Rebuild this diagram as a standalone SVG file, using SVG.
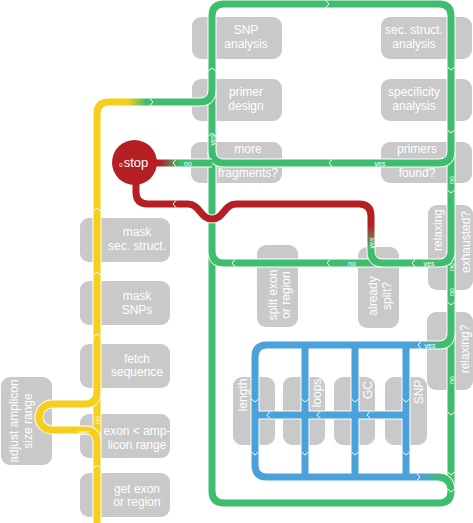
<svg xmlns="http://www.w3.org/2000/svg" width="473" height="523" viewBox="0 0 473 523">
<defs>
<style>
.box{fill:#c9c9c9}
.t{font-family:"Liberation Sans",Arial,sans-serif;font-size:12px;fill:#fff;text-anchor:middle}
.c{fill:none;stroke:#fff;stroke-width:9;stroke-linejoin:round}
.ln{fill:none;stroke-width:7;stroke-linejoin:round}
.g{stroke:#3fbd6e}
.y{stroke:#f6cf1c}
.b{stroke:#4ba2da}
.l{font-family:"Liberation Sans",Arial,sans-serif;font-size:7px;fill:#fff;text-anchor:middle}
</style>
<path id="al" d="M3,-3.5 L0,0 L3,3.5" fill="none" stroke="#fff" stroke-width="1"/>
<linearGradient id="yg" gradientUnits="userSpaceOnUse" x1="128" y1="0" x2="146" y2="0"><stop offset="0" stop-color="#f6cf1c"/><stop offset="1" stop-color="#3fbd6e"/></linearGradient>
<linearGradient id="rg" gradientUnits="userSpaceOnUse" x1="160" y1="0" x2="180" y2="0"><stop offset="0" stop-color="#b51f24"/><stop offset="1" stop-color="#3fbd6e"/></linearGradient>
<linearGradient id="rv" gradientUnits="userSpaceOnUse" x1="0" y1="226" x2="0" y2="248"><stop offset="0" stop-color="#b51f24"/><stop offset="1" stop-color="#3fbd6e"/></linearGradient>
<linearGradient id="bg" gradientUnits="userSpaceOnUse" x1="422" y1="0" x2="442" y2="0"><stop offset="0" stop-color="#4ba2da"/><stop offset="1" stop-color="#3fbd6e"/></linearGradient>
</defs>
<rect width="473" height="523" fill="#fff"/>

<g id="snp-analysis"><rect class="box" x="192" y="17" width="90" height="42" rx="9"/><text class="t" x="246" y="34">SNP</text><text class="t" x="246" y="48">analysis</text></g>
<g id="sec-struct-analysis"><rect class="box" x="381" y="17" width="91" height="42" rx="9"/><text class="t" x="414" y="34">sec. struct.</text><text class="t" x="414" y="48">analysis</text></g>
<g id="primer-design"><rect class="box" x="192" y="79" width="90" height="42" rx="9"/><text class="t" x="246" y="96">primer</text><text class="t" x="246" y="110">design</text></g>
<g id="specificity-analysis"><rect class="box" x="381" y="79" width="91" height="42" rx="9"/><text class="t" x="414" y="96">specificity</text><text class="t" x="414" y="110">analysis</text></g>
<g id="more-fragments"><rect class="box" x="191" y="142" width="91" height="41" rx="9"/><text class="t" x="248" y="153">more</text><text class="t" x="248" y="177">fragments?</text></g>
<g id="primers-found"><rect class="box" x="381" y="142" width="91" height="41" rx="9"/><text class="t" x="417" y="153">primers</text><text class="t" x="417" y="177">found?</text></g>
<g id="relaxing-exhausted"><rect class="box" x="428" y="205" width="45" height="85" rx="9"/><text class="t" transform="translate(442,230) rotate(-90)">relaxing</text><text class="t" transform="translate(470,242) rotate(-90)">exhausted?</text></g>
<g id="split-exon"><rect class="box" x="257" y="245" width="41" height="82" rx="9"/><text class="t" transform="translate(277,295) rotate(-90)">split exon</text><text class="t" transform="translate(290,295) rotate(-90)">or region</text></g>
<g id="already-split"><rect class="box" x="358" y="247" width="41" height="81" rx="9"/><text class="t" transform="translate(377,296) rotate(-90)">already</text><text class="t" transform="translate(391,296) rotate(-90)">split?</text></g>
<g id="relaxing"><rect class="box" x="427" y="312" width="46" height="78" rx="9"/><text class="t" transform="translate(469,349) rotate(-90)">relaxing?</text></g>
<g id="length"><rect class="box" x="233" y="377" width="42" height="68" rx="9"/><text class="t" transform="translate(247,395) rotate(-90)">length</text></g>
<g id="loops"><rect class="box" x="283" y="377" width="42" height="68" rx="9"/><text class="t" transform="translate(321,393) rotate(-90)">loops</text></g>
<g id="gc"><rect class="box" x="334" y="377" width="41" height="68" rx="9"/><text class="t" transform="translate(372,390) rotate(-90)">GC</text></g>
<g id="snp"><rect class="box" x="385" y="377" width="42" height="68" rx="9"/><text class="t" transform="translate(423,392) rotate(-90)">SNP</text></g>
<g id="mask-sec-struct"><rect class="box" x="80" y="218" width="90" height="44" rx="9"/><text class="t" x="137" y="236">mask</text><text class="t" x="137" y="250">sec. struct.</text></g>
<g id="mask-snps"><rect class="box" x="80" y="281" width="90" height="44" rx="9"/><text class="t" x="137" y="300">mask</text><text class="t" x="137" y="314">SNPs</text></g>
<g id="fetch-sequence"><rect class="box" x="80" y="344" width="90" height="44" rx="9"/><text class="t" x="137" y="363">fetch</text><text class="t" x="137" y="376">sequence</text></g>
<g id="exon-amplicon"><rect class="box" x="80" y="414" width="90" height="44" rx="9"/><text class="t" x="137" y="435">exon &lt; amp-</text><text class="t" x="137" y="449">licon range</text></g>
<g id="get-exon"><rect class="box" x="80" y="473" width="90" height="44" rx="9"/><text class="t" x="137" y="493">get exon</text><text class="t" x="137" y="506">or region</text></g>
<g id="adjust-amplicon"><rect class="box" x="1" y="377" width="51" height="88" rx="9"/><text class="t" transform="translate(18,421) rotate(-90)">adjust amplicon</text><text class="t" transform="translate(32,421) rotate(-90)">size range</text></g>

<g id="connectors">
<path class="c" d="M451,340 L451,491 Q451,503 439,503 L224,503 Q212,503 212,491 L212,16 Q212,4 224,4 L439,4 Q451,4 451,16 Z"/>
<path class="ln g" d="M451,340 L451,491 Q451,503 439,503 L224,503 Q212,503 212,491 L212,16 Q212,4 224,4 L439,4 Q451,4 451,16 Z"/>
<path class="c" d="M97,523 L97,114 Q97,102 109,102 L200,102 Q212,102 212,90"/>
<path class="ln" stroke="url(#yg)" d="M97,523 L97,114 Q97,102 109,102 L200,102 Q212,102 212,90"/>
<path class="c" d="M97,442 Q97,430 85,430 L52,430 A13,13 0 0 1 52,404 L85,404 Q97,404 97,392"/>
<path class="ln y" d="M97,442 Q97,430 85,430 L52,430 A13,13 0 0 1 52,404 L85,404 Q97,404 97,392"/>
<path class="c" d="M451,151 Q451,163 439,163 L224,163 Q212,163 212,151"/>
<path class="ln g" d="M451,151 Q451,163 439,163 L224,163 Q212,163 212,151"/>
<path class="c" d="M212,163 L150,163"/>
<path class="ln" stroke="url(#rg)" d="M212,163 L150,163"/>
<path class="c" d="M451,251 Q451,263 439,263 L224,263 Q212,263 212,251"/>
<path class="ln g" d="M451,251 Q451,263 439,263 L224,263 Q212,263 212,251"/>
<path class="c" d="M383,263 Q371,263 371,251 L371,216 Q371,204 359,204 L236,204 C224,204 224,219 212,219 C200,219 200,204 188,204 L148,204 Q136,204 136,192 L136,178"/>
<path class="ln" stroke="url(#rv)" d="M383,263 Q371,263 371,251 L371,216 Q371,204 359,204 L236,204 C224,204 224,219 212,219 C200,219 200,204 188,204 L148,204 Q136,204 136,192 L136,178"/>
<path class="c" d="M451,333 Q451,345 439,345 L267,345 Q255,345 255,357 L255,465 Q255,477 267,477 L437,477 Q451,477 451,491 M305,345 L305,477 M355,345 L355,477 M406,345 L406,477 M255,415 L406,415"/>
<path class="ln" stroke="url(#bg)" d="M451,333 Q451,345 439,345 L267,345 Q255,345 255,357 L255,465 Q255,477 267,477 L437,477 Q451,477 451,491"/>
<path class="ln b" d="M305,345 L305,477 M355,345 L355,477 M406,345 L406,477 M255,415 L406,415"/>
</g>

<g id="stop">
<circle cx="134.5" cy="162.5" r="22.5" fill="#b51f24"/>
<text x="121" y="167" font-family="Liberation Sans,Arial,sans-serif" font-size="6" fill="#fff" text-anchor="middle">0</text>
<text x="136" y="167" font-family="Liberation Sans,Arial,sans-serif" font-size="13" fill="#fff" text-anchor="middle">stop</text>
</g>

<g id="arrows">
<use href="#al" transform="translate(212,68) rotate(90)"/>
<use href="#al" transform="translate(212,133) rotate(90)"/>
<use href="#al" transform="translate(329,4) rotate(180)"/>
<use href="#al" transform="translate(153,102) rotate(180)"/>
<use href="#al" transform="translate(451,70) rotate(-90)"/>
<use href="#al" transform="translate(451,133) rotate(-90)"/>
<use href="#al" transform="translate(451,193) rotate(-90)"/>
<use href="#al" transform="translate(451,305) rotate(-90)"/>
<use href="#al" transform="translate(451,415) rotate(-90)"/>
<use href="#al" transform="translate(451,475) rotate(-90)"/>
<use href="#al" transform="translate(451,492) rotate(-90)"/>
<use href="#al" transform="translate(329,163)"/>
<use href="#al" transform="translate(173,163)"/>
<use href="#al" transform="translate(173,204)"/>
<use href="#al" transform="translate(232,263)"/>
<use href="#al" transform="translate(327,263)"/>
<use href="#al" transform="translate(412,263)"/>
<use href="#al" transform="translate(418,345)"/>
<use href="#al" transform="translate(97,208) rotate(90)"/>
<use href="#al" transform="translate(97,272) rotate(90)"/>
<use href="#al" transform="translate(97,334) rotate(90)"/>
<use href="#al" transform="translate(97,465) rotate(90)"/>
<use href="#al" transform="translate(255,402) rotate(-90)"/>
<use href="#al" transform="translate(305,402) rotate(-90)"/>
<use href="#al" transform="translate(355,402) rotate(-90)"/>
<use href="#al" transform="translate(406,402) rotate(-90)"/>
<use href="#al" transform="translate(255,455) rotate(-90)"/>
<use href="#al" transform="translate(305,455) rotate(-90)"/>
<use href="#al" transform="translate(355,455) rotate(-90)"/>
<use href="#al" transform="translate(406,455) rotate(-90)"/>
<use href="#al" transform="translate(267,415)"/>
<use href="#al" transform="translate(317,415)"/>
<use href="#al" transform="translate(367,415)"/>
<use href="#al" transform="translate(420,477) rotate(180)"/>
</g>

<g id="labels">
<text class="l" x="188" y="165.5">no</text>
<text class="l" x="380" y="165.5">yes</text>
<text class="l" x="352" y="265.5">no</text>
<text class="l" x="429" y="265.5">yes</text>
<text class="l" x="430" y="347.5">yes</text>
<text class="l" x="84" y="434.5">yes</text>
<text class="l" transform="translate(99.5,420) rotate(-90)">no</text>
<text class="l" transform="translate(214.5,140) rotate(-90)">yes</text>
<text class="l" transform="translate(373.5,243) rotate(-90)">yes</text>
<text class="l" transform="translate(453.5,180) rotate(-90)">no</text>
<text class="l" transform="translate(453.5,267) rotate(-90)">no</text>
<text class="l" transform="translate(453.5,292) rotate(-90)">no</text>
<text class="l" transform="translate(453.5,380) rotate(-90)">no</text>
</g>
</svg>
